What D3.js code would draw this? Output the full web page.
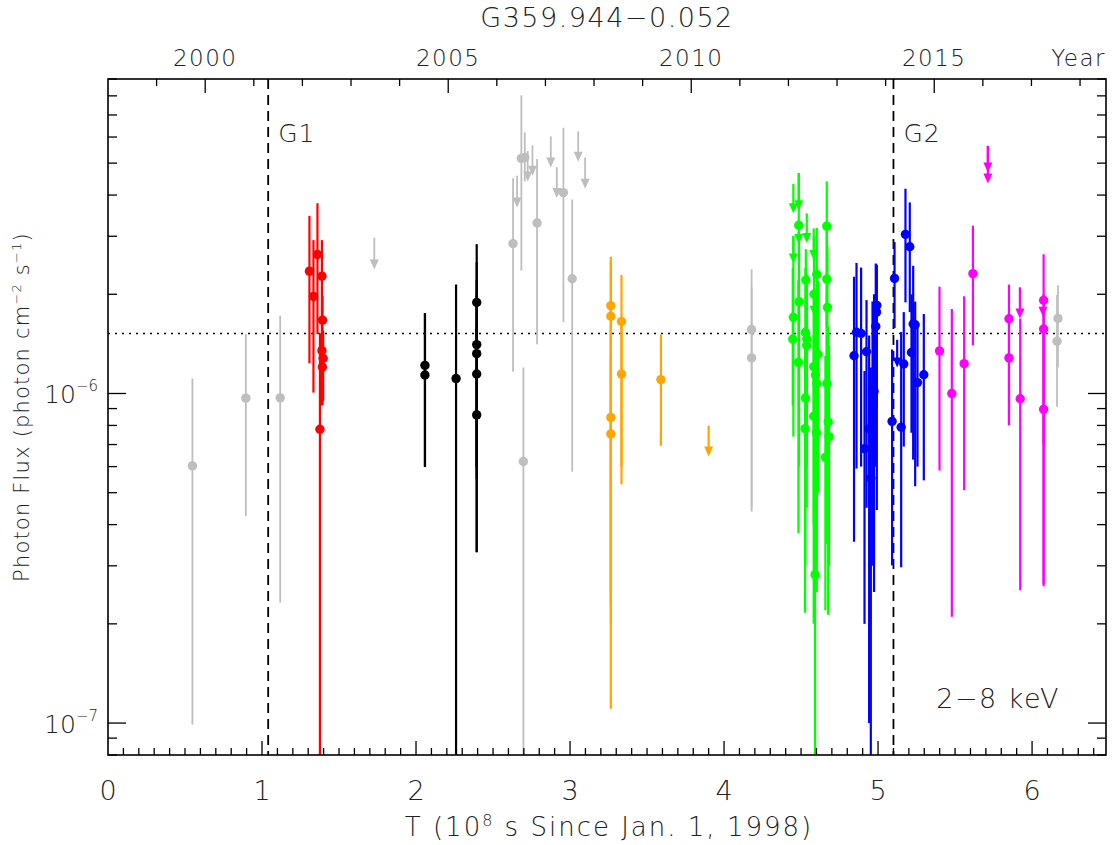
<!DOCTYPE html>
<html>
<head>
<meta charset="utf-8">
<script src="https://cdn.jsdelivr.net/npm/d3@7"></script>
<style>
  body { margin: 0; background: #fff; }
  text { font-family: 'DejaVu Sans', sans-serif; font-weight: 200; fill: #222; }
</style>
</head>
<body>
<div id="chart"></div>
<script>
// flux in units of 1e-6 photon cm^-2 s^-1, time T in 1e8 s since 1998-01-01
// detections: [T, flux, low, high]
var grayPts = [
  [0.548, 0.603, 0.099, 1.11], [0.895, 0.968, 0.425, 1.515], [1.118, 0.970, 0.232, 1.72],
  [2.630, 2.85, 1.164, 4.50], [2.684, 5.17, 2.36, 8.03], [2.697, 0.622, 0.05, 1.199],
  [2.706, 5.20, 4.40, 6.20], [2.786, 3.29, 1.41, 5.15], [2.957, 4.07, 1.645, 6.40],
  [3.014, 2.23, 0.579, 3.88], [4.179, 1.563, 0.438, 2.38], [4.179, 1.282, 0.45, 2.10],
  [6.168, 1.69, 1.20, 2.13], [6.162, 1.44, 0.912, 1.99]
];
var redPts = [
  [1.308, 2.35, 1.235, 3.46], [1.334, 1.97, 1.006, 2.92], [1.360, 2.64, 1.515, 3.78],
  [1.389, 2.27, 1.45, 2.92], [1.393, 1.67, 0.923, 1.976], [1.389, 1.349, 0.92, 1.525],
  [1.397, 1.279, 0.95, 1.55], [1.392, 1.203, 0.95, 1.52], [1.376, 0.779, 0.05, 1.523]
];
var blackPts = [
  [2.058, 1.217, 0.598, 1.755], [2.058, 1.138, 0.60, 1.75], [2.260, 1.11, 0.05, 2.14],
  [2.394, 1.888, 0.60, 2.84], [2.394, 1.407, 0.33, 2.50], [2.394, 1.321, 0.60, 2.20],
  [2.394, 1.146, 0.55, 2.00], [2.394, 0.861, 0.33, 1.60]
];
var orangePts = [
  [3.265, 1.847, 0.1105, 2.60], [3.265, 1.716, 0.23, 2.50], [3.265, 0.846, 0.25, 1.60],
  [3.265, 0.754, 0.20, 1.30], [3.334, 1.654, 0.530, 2.29], [3.334, 1.146, 0.60, 1.70],
  [3.590, 1.102, 0.694, 1.512]
];
var greenPts = [
  [4.450, 1.703, 0.74, 3.00], [4.446, 1.463, 0.92, 2.40],
  [4.485, 3.24, 1.90, 4.67], [4.487, 1.90, 0.60, 2.90], [4.483, 1.243, 0.377, 2.20],
  [4.531, 2.21, 1.00, 2.74], [4.528, 1.534, 0.50, 2.40], [4.537, 1.463, 0.60, 2.30],
  [4.537, 1.40, 0.45, 2.20], [4.528, 0.969, 0.30, 1.60], [4.526, 0.782, 0.216, 1.40],
  [4.602, 2.30, 1.10, 3.18], [4.584, 2.00, 0.80, 3.00], [4.610, 1.315, 0.50, 2.20],
  [4.582, 1.206, 0.40, 2.00], [4.593, 1.138, 0.45, 2.00], [4.602, 1.072, 0.25, 1.90],
  [4.582, 0.853, 0.20, 1.50], [4.600, 0.760, 0.30, 1.40], [4.591, 0.282, 0.05, 0.90],
  [4.667, 3.22, 1.60, 4.40], [4.667, 2.225, 1.00, 3.20], [4.671, 1.826, 0.80, 2.80],
  [4.667, 1.072, 0.35, 2.00], [4.676, 0.820, 0.213, 1.60], [4.682, 0.740, 0.30, 1.40],
  [4.658, 0.640, 0.22, 1.30]
];
var bluePts = [
  [4.844, 1.302, 0.355, 2.26], [4.860, 1.534, 0.592, 2.49], [4.890, 1.521, 0.60, 2.41],
  [4.912, 0.680, 0.200, 1.17], [4.925, 1.339, 0.45, 1.92], [4.942, 0.781, 0.10, 1.50],
  [4.953, 0.553, 0.05, 1.20], [4.964, 1.016, 0.30, 1.90], [4.974, 1.016, 0.25, 2.00],
  [4.985, 1.598, 0.60, 2.48], [4.990, 1.766, 0.90, 2.45], [4.992, 1.851, 0.443, 2.46],
  [5.091, 0.823, 0.301, 1.36], [5.107, 2.234, 1.58, 2.88], [5.150, 0.790, 0.297, 1.536],
  [5.167, 1.229, 0.690, 1.766], [5.178, 3.04, 1.89, 4.18], [5.206, 2.787, 1.766, 3.80],
  [5.217, 1.332, 0.76, 2.00], [5.228, 1.625, 0.63, 2.44], [5.241, 1.616, 0.523, 1.90],
  [5.256, 1.079, 0.60, 1.60], [5.297, 1.14, 0.545, 1.742]
];
var magentaPts = [
  [5.399, 1.347, 0.584, 2.11], [5.479, 1.00, 0.210, 1.805], [5.559, 1.232, 0.509, 1.972],
  [5.616, 2.31, 1.40, 3.23], [5.850, 1.686, 0.815, 2.14], [5.850, 1.282, 0.80, 1.70],
  [5.923, 0.964, 0.253, 1.69], [6.075, 1.918, 0.264, 2.645], [6.075, 1.569, 0.70, 2.00],
  [6.075, 0.896, 0.26, 1.60]
];

// upper limits: [T, limit, arrow end]
var grayUL = [
  [1.729, 2.97, 2.38], [2.656, 4.58, 3.67], [2.725, 5.44, 4.40], [2.756, 5.66, 4.58],
  [2.875, 6.03, 4.85], [2.914, 4.86, 3.92], [3.053, 6.24, 5.05], [3.098, 5.20, 4.18]
];
var orangeUL = [[3.900, 0.798, 0.644]];
var greenUL = [
  [4.450, 4.32, 3.52], [4.485, 4.66, 3.60], [4.485, 3.09, 2.84], [4.537, 3.52, 2.86],
  [4.450, 3.01, 2.48], [4.582, 3.17, 2.54], [4.584, 1.92, 1.72]
];
var blueUL = [[5.124, 1.455, 1.199]];
var magentaUL = [[5.713, 5.64, 4.68], [5.713, 5.64, 4.34], [5.921, 2.10, 1.69], [6.071, 1.805, 1.71]];

var groups = [
  { color: '#bebebe', pts: grayPts, ul: grayUL },
  { color: '#ff0000', pts: redPts, ul: [] },
  { color: '#000000', pts: blackPts, ul: [] },
  { color: '#ffa500', pts: orangePts, ul: orangeUL },
  { color: '#00ff00', pts: greenPts, ul: greenUL },
  { color: '#0000ff', pts: bluePts, ul: blueUL },
  { color: '#ff00ff', pts: magentaPts, ul: magentaUL }
];

var meanFlux = 1.52;
var g1T = 1.04, g2T = 5.10;
var xTicks = [0, 1, 2, 3, 4, 5, 6];
var yearLabels = [2000, 2005, 2010, 2015];
var yearsPerT = 0.315576; // 1 yr in 1e8 s

var width = 1112, height = 845;
var margin = { top: 79, right: 6, bottom: 90, left: 108 };

var svg = d3.select('#chart').append('svg')
  .attr('width', width)
  .attr('height', height);

var x = d3.scaleLinear().domain([0, 6.48]).range([margin.left, width - margin.right]);
var y = d3.scaleLog().domain([0.08, 9]).range([height - margin.bottom, margin.top]);
var x0 = x.range()[0], x1 = x.range()[1], y0 = y.range()[0], y1 = y.range()[1];

svg.append('clipPath').attr('id', 'clip')
  .append('rect').attr('x', x0).attr('y', y1).attr('width', x1 - x0).attr('height', y0 - y1);

var plot = svg.append('g').attr('clip-path', 'url(#clip)');

// mean flux and G1/G2 lines
plot.append('line')
  .attr('x1', x0).attr('x2', x1).attr('y1', y(meanFlux)).attr('y2', y(meanFlux))
  .style('stroke', '#000').style('stroke-width', 1.6).style('stroke-dasharray', '2,5');

[g1T, g2T].forEach(function(t) {
  plot.append('line')
    .attr('x1', x(t)).attr('x2', x(t)).attr('y1', y1).attr('y2', y0)
    .style('stroke', '#000').style('stroke-width', 1.8).style('stroke-dasharray', '10,6');
});

groups.forEach(function(grp) {
  var g = plot.append('g');
  var w = grp.color === '#bebebe' ? 1.8 : 2.2;

  g.selectAll('.bar').data(grp.pts).enter().append('line')
    .attr('class', 'bar')
    .attr('x1', function(d) { return x(d[0]); })
    .attr('x2', function(d) { return x(d[0]); })
    .attr('y1', function(d) { return y(d[2]); })
    .attr('y2', function(d) { return y(d[3]); })
    .style('stroke', grp.color).style('stroke-width', w);

  g.selectAll('.dot').data(grp.pts).enter().append('circle')
    .attr('class', 'dot')
    .attr('cx', function(d) { return x(d[0]); })
    .attr('cy', function(d) { return y(d[1]); })
    .attr('r', 4.7)
    .style('fill', grp.color);

  g.selectAll('.ulline').data(grp.ul).enter().append('line')
    .attr('class', 'ulline')
    .attr('x1', function(d) { return x(d[0]); })
    .attr('x2', function(d) { return x(d[0]); })
    .attr('y1', function(d) { return y(d[1]); })
    .attr('y2', function(d) { return y(d[2]) - 8; })
    .style('stroke', grp.color).style('stroke-width', w);

  g.selectAll('.head').data(grp.ul).enter().append('path')
    .attr('class', 'head')
    .attr('d', function(d) {
      var px = x(d[0]), py = y(d[2]);
      return 'M' + (px - 4.5) + ',' + (py - 10) + 'L' + (px + 4.5) + ',' + (py - 10) + 'L' + px + ',' + py + 'Z';
    })
    .style('fill', grp.color);
});

// frame
svg.append('rect')
  .attr('x', x0).attr('y', y1).attr('width', x1 - x0).attr('height', y0 - y1)
  .style('fill', 'none').style('stroke', '#000').style('stroke-width', 1.6);

var axes = svg.append('g').style('stroke', '#000').style('stroke-width', 1.3);

// bottom ticks every 0.1
d3.range(1, 65).forEach(function(i) {
  var major = i % 10 === 0, len = major ? 14 : 7;
  axes.append('line').attr('x1', x(i / 10)).attr('x2', x(i / 10)).attr('y1', y0).attr('y2', y0 - len);
});

// top ticks every year
d3.range(1999, 2019).forEach(function(yr) {
  var t = (yr - 1998) * yearsPerT;
  if (x(t) >= x1) return;
  var len = yr % 5 === 0 ? 14 : 7;
  axes.append('line').attr('x1', x(t)).attr('x2', x(t)).attr('y1', y1).attr('y2', y1 + len);
});

// log ticks, left and right
var yTickVals = [];
[0.01, 0.1, 1].forEach(function(dec) {
  d3.range(1, 10).forEach(function(m) {
    var v = dec * m;
    if (v >= 0.08 && v <= 9) yTickVals.push(v);
  });
});
yTickVals.forEach(function(v) {
  var major = Math.abs(v - 0.1) < 1e-9 || Math.abs(v - 1) < 1e-9, len = major ? 18 : 9;
  axes.append('line').attr('x1', x0).attr('x2', x0 + len).attr('y1', y(v)).attr('y2', y(v));
  axes.append('line').attr('x1', x1).attr('x2', x1 - len).attr('y1', y(v)).attr('y2', y(v));
});

// labels
svg.selectAll('.xlab').data(xTicks).enter().append('text')
  .attr('x', function(d) { return x(d); })
  .attr('y', y0 + 45)
  .attr('text-anchor', 'middle')
  .style('font-size', '27px')
  .text(function(d) { return d; });

svg.selectAll('.yrlab').data(yearLabels).enter().append('text')
  .attr('x', function(d) { return x((d - 1998) * yearsPerT); })
  .attr('y', 66)
  .attr('text-anchor', 'middle')
  .style('font-size', '23px')
  .style('letter-spacing', '1.5px')
  .text(function(d) { return d; });

svg.append('text').attr('x', 1106).attr('y', 66).attr('text-anchor', 'end')
  .style('font-size', '23px').style('letter-spacing', '1.5px').text('Year');

svg.append('text').attr('x', (x0 + x1) / 2).attr('y', 27).attr('text-anchor', 'middle')
  .style('font-size', '27px').style('letter-spacing', '1.5px').text('G359.944\u22120.052');

var xl = svg.append('text').attr('x', (x0 + x1) / 2 + 2).attr('y', 836).attr('text-anchor', 'middle')
  .style('font-size', '26px').style('letter-spacing', '2px');
xl.append('tspan').text('T (10');
xl.append('tspan').attr('dy', -10).style('font-size', '16px').text('8');
xl.append('tspan').attr('dy', 10).text(' s Since Jan. 1, 1998)');

var yl = svg.append('text')
  .attr('transform', 'translate(29,' + ((y0 + y1) / 2 - 10) + ') rotate(-90)')
  .attr('text-anchor', 'middle')
  .style('font-size', '21px').style('letter-spacing', '1.2px');
yl.append('tspan').text('Photon Flux (photon cm');
yl.append('tspan').attr('dy', -8).style('font-size', '13px').text('\u22122');
yl.append('tspan').attr('dy', 8).text(' s');
yl.append('tspan').attr('dy', -8).style('font-size', '13px').text('\u22121');
yl.append('tspan').attr('dy', 8).text(')');

[[1, '\u22126'], [0.1, '\u22127']].forEach(function(d) {
  var t = svg.append('text').attr('x', 98).attr('y', y(d[0]) + 10).attr('text-anchor', 'end')
    .style('font-size', '25px');
  t.append('tspan').text('10');
  t.append('tspan').attr('dy', -12).style('font-size', '15px').text(d[1]);
});

svg.append('text').attr('x', x(g1T) + 10).attr('y', 142).style('font-size', '25px').style('letter-spacing', '1px').text('G1');
svg.append('text').attr('x', x(g2T) + 10).attr('y', 142).style('font-size', '25px').style('letter-spacing', '1px').text('G2');
svg.append('text').attr('x', 1060).attr('y', 708).attr('text-anchor', 'end')
  .style('font-size', '27px').style('letter-spacing', '1.5px').text('2\u22128 keV');
</script>
</body>
</html>
